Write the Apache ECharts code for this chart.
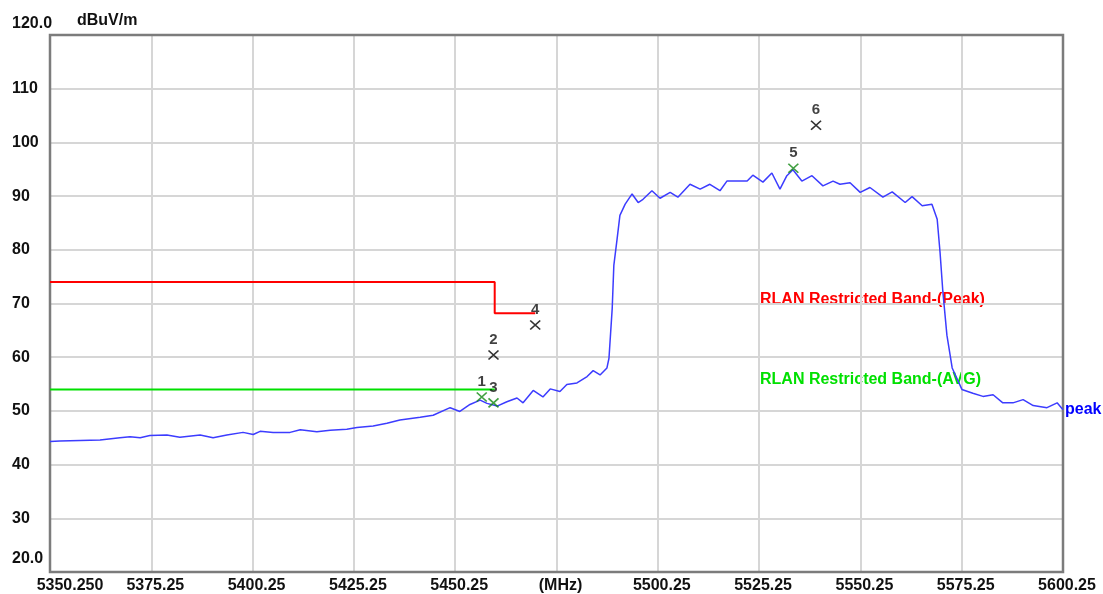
<!DOCTYPE html>
<html>
<head>
<meta charset="utf-8">
<script src="https://cdn.jsdelivr.net/npm/echarts@6/dist/echarts.min.js"></script>
<style>
  html, body { margin: 0; padding: 0; background: #fff; }
  #chart { width: 1103px; height: 594px; }
</style>
</head>
<body>
<div id="chart"></div>
<script>
// frequency axis ticks (MHz)
const xTicks = [5350.25, 5375.25, 5400.25, 5425.25, 5450.25, 5475.25, 5500.25, 5525.25, 5550.25, 5575.25, 5600.25];

// peak trace
const peakFreq = [5350.25, 5352.7, 5357.7, 5362.6, 5367.5, 5370.0, 5372.5, 5374.9, 5379.1, 5382.3, 5387.3, 5390.5, 5393.9, 5397.9, 5400.4, 5402.1, 5405.3, 5409.5, 5412.0, 5416.1, 5419.4, 5423.5, 5426.0, 5430.0, 5433.4, 5436.6, 5441.6, 5444.8, 5449.0, 5451.4, 5453.9, 5456.4, 5458.1, 5460.6, 5463.0, 5465.5, 5467.0, 5469.5, 5471.9, 5473.7, 5476.1, 5477.8, 5480.3, 5482.8, 5484.3, 5486.0, 5487.7, 5488.2, 5489.0, 5489.4, 5490.2, 5490.9, 5492.2, 5493.9, 5495.4, 5496.6, 5498.8, 5500.8, 5503.3, 5505.2, 5508.2, 5510.7, 5513.1, 5515.6, 5517.3, 5519.8, 5522.3, 5523.7, 5526.2, 5528.4, 5530.4, 5532.1, 5533.6, 5535.8, 5538.3, 5541.0, 5543.5, 5545.2, 5547.7, 5550.2, 5552.6, 5555.8, 5558.1, 5561.3, 5563.0, 5565.5, 5567.9, 5569.2, 5569.9, 5570.6, 5571.6, 5572.9, 5575.3, 5578.0, 5580.5, 5583.0, 5585.4, 5587.9, 5590.4, 5592.9, 5596.3, 5598.8, 5600.25];
const peakLevel = [44.3, 44.4, 44.5, 44.6, 45.0, 45.2, 45.0, 45.4, 45.5, 45.1, 45.5, 45.0, 45.5, 46.0, 45.6, 46.2, 46.0, 46.0, 46.5, 46.1, 46.4, 46.6, 46.9, 47.2, 47.7, 48.3, 48.8, 49.2, 50.6, 49.9, 51.2, 52.0, 51.4, 50.9, 51.7, 52.4, 51.5, 53.8, 52.6, 54.1, 53.6, 54.9, 55.2, 56.4, 57.5, 56.7, 58.0, 59.8, 69.1, 77.1, 82.0, 86.4, 88.5, 90.4, 88.8, 89.4, 91.0, 89.6, 90.7, 89.8, 92.2, 91.3, 92.2, 91.0, 92.8, 92.8, 92.8, 93.9, 92.6, 94.3, 91.3, 93.8, 94.9, 92.8, 93.8, 91.9, 92.8, 92.2, 92.5, 90.7, 91.6, 89.8, 90.8, 88.8, 89.9, 88.2, 88.5, 85.7, 79.6, 72.2, 64.1, 58.0, 54.0, 53.3, 52.7, 53.0, 51.5, 51.5, 52.1, 51.0, 50.6, 51.5, 50.2];

// limit lines
const peakLimitFreq = [5350.25, 5460, 5460, 5470];
const peakLimitLevel = [74, 74, 68.2, 68.2];
const avgLimitFreq = [5350.25, 5460];
const avgLimitLevel = [54, 54];

// markers
const markerName = ['1', '2', '3', '4', '5', '6'];
const markerFreq = [5456.8, 5459.7, 5459.7, 5470.0, 5533.7, 5539.3];
const markerLevel = [52.6, 60.4, 51.5, 66.0, 95.2, 103.2];
const markerIsAvg = [true, false, true, false, true, false];

const FONT = '"Liberation Sans", Arial, sans-serif';
const zip = (a, b) => a.map((v, i) => [v, b[i]]);

const chart = echarts.init(document.getElementById('chart'));

const option = {
  animation: false,
  backgroundColor: '#fff',
  textStyle: { fontFamily: FONT },
  grid: {
    left: 50, top: 35, right: 40, bottom: 19,
    show: true, borderColor: '#7c7c7c', borderWidth: 2.5, z: 3
  },
  xAxis: {
    type: 'value',
    min: 5350.25,
    max: 5600.25,
    axisLine: { show: false },
    axisTick: { show: false, customValues: xTicks },
    splitLine: { show: true, lineStyle: { color: '#d6d6d6', width: 2 } },
    axisLabel: {
      customValues: xTicks,
      margin: 6,
      color: '#111',
      fontSize: 16,
      fontWeight: 'bold',
      formatter: (v) => {
        if (Math.abs(v - 5475.25) < 0.01) return '{n|(MHz)}';
        if (Math.abs(v - 5350.25) < 0.01) return '{f|5350.250}';
        return '{n|' + v.toFixed(2) + '}';
      },
      rich: {
        n: { fontSize: 16, fontWeight: 'bold', color: '#111', padding: [0, 0, 0, 8] },
        f: { fontSize: 16, fontWeight: 'bold', color: '#111', padding: [0, 0, 0, 40] }
      }
    }
  },
  yAxis: {
    type: 'value',
    min: 20,
    max: 120,
    interval: 10,
    axisLine: { show: false },
    axisTick: { show: false },
    splitLine: { show: true, lineStyle: { color: '#d6d6d6', width: 2 } },
    axisLabel: {
      align: 'left',
      margin: 38,
      color: '#111',
      fontSize: 16,
      fontWeight: 'bold',
      formatter: (v) => {
        if (v === 120) return '{t|120.0}';
        if (v === 20) return '{b|20.0}';
        return '{n|' + v + '}';
      },
      rich: {
        n: { fontSize: 16, fontWeight: 'bold', color: '#111' },
        t: { fontSize: 16, fontWeight: 'bold', color: '#111', padding: [0, 0, 22, 0] },
        b: { fontSize: 16, fontWeight: 'bold', color: '#111', padding: [0, 0, 26, 0] }
      }
    }
  },
  graphic: [
    { type: 'text', left: 77, top: 13, style: { text: 'dBuV/m', fill: '#111', font: 'bold 16px ' + FONT } },
    { type: 'text', left: 760, top: 292, style: { text: 'RLAN Restricted Band-(Peak)', fill: '#ff0000', font: 'bold 16px ' + FONT } },
    { type: 'text', left: 760, top: 372, style: { text: 'RLAN Restricted Band-(AVG)', fill: '#00e000', font: 'bold 16px ' + FONT } }
  ],
  series: [
    {
      name: 'Peak limit',
      type: 'line',
      data: zip(peakLimitFreq, peakLimitLevel),
      symbol: 'none',
      lineStyle: { color: '#ff0000', width: 2 },
      z: 3
    },
    {
      name: 'AVG limit',
      type: 'line',
      data: zip(avgLimitFreq, avgLimitLevel),
      symbol: 'none',
      lineStyle: { color: '#00e000', width: 2 },
      z: 3
    },
    {
      name: 'peak',
      type: 'line',
      data: zip(peakFreq, peakLevel),
      symbol: 'none',
      lineStyle: { color: '#3c3cff', width: 1.5 },
      endLabel: {
        show: true,
        formatter: 'peak',
        color: '#0000ff',
        fontSize: 16,
        fontWeight: 'bold',
        distance: 2
      },
      z: 4
    },
    {
      name: 'markers',
      type: 'scatter',
      data: markerFreq.map((f, i) => ({
        value: [f, markerLevel[i]],
        name: markerName[i],
        itemStyle: { borderColor: markerIsAvg[i] ? '#118811' : '#000' }
      })),
      symbol: 'path://M0,0L10,10M10,0L0,10',
      symbolSize: [10, 9],
      itemStyle: { color: 'none', borderWidth: 1.6 },
      label: {
        show: true,
        position: 'top',
        distance: 1,
        formatter: (p) => p.name,
        color: '#111',
        fontSize: 15,
        fontWeight: 'bold'
      },
      z: 5
    }
  ]
};

chart.setOption(option);
</script>
</body>
</html>
